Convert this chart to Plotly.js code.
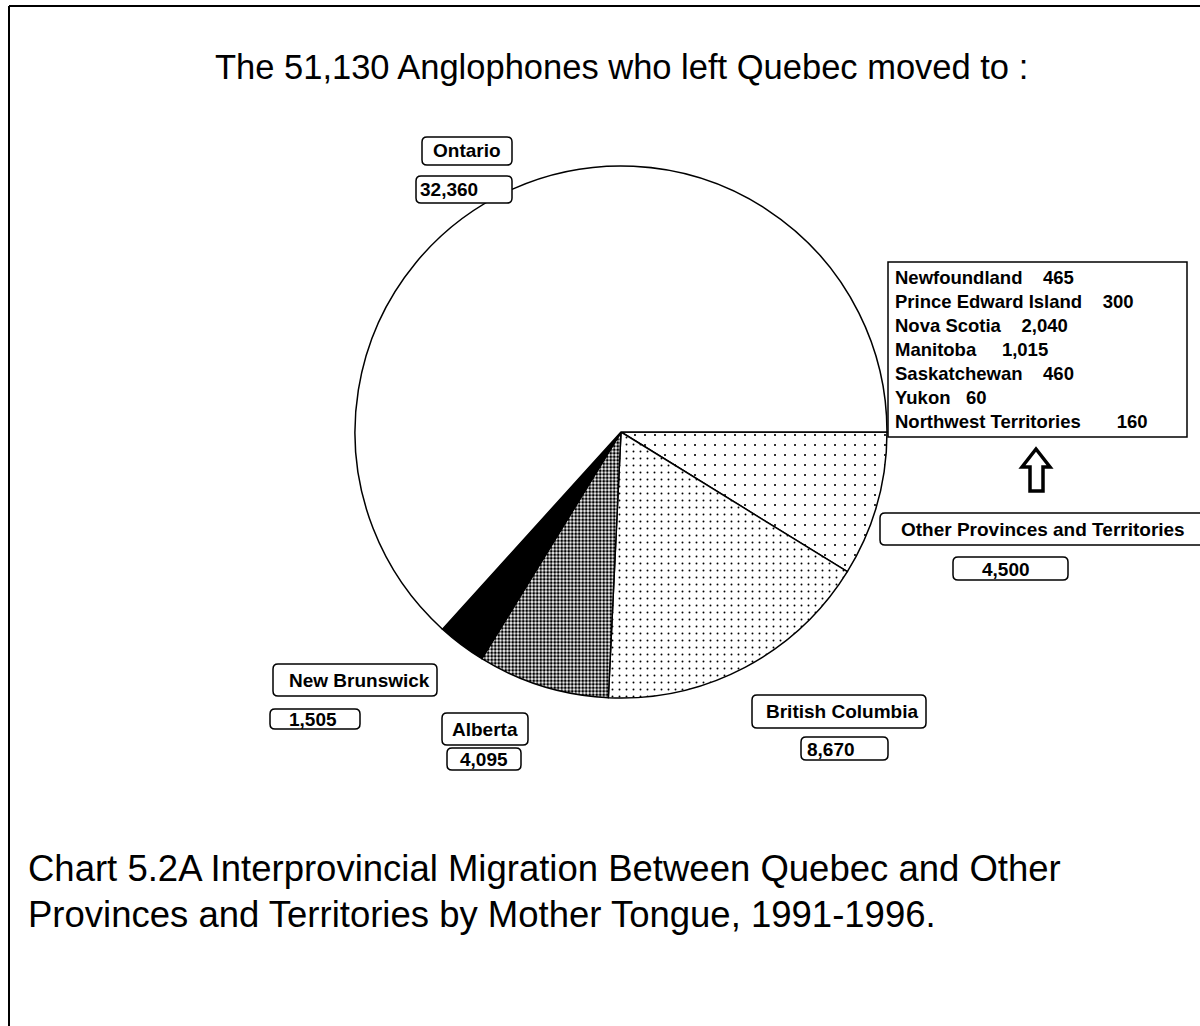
<!DOCTYPE html>
<html>
<head>
<meta charset="utf-8">
<script src="https://cdn.plot.ly/plotly-3.0.1.min.js"></script>
<style>
  html, body { margin: 0; padding: 0; background: #fff; }
  #chart { width: 1200px; height: 1026px; }
</style>
</head>
<body>
<div id="chart"></div>
<script>
// ---- data ----
const sliceLabels = ['Other Provinces and Territories', 'British Columbia', 'Alberta', 'New Brunswick', 'Ontario'];
const sliceValues = [4500, 8670, 4095, 1505, 32360];
const otherNames = ['Newfoundland', 'Prince Edward Island', 'Nova Scotia', 'Manitoba', 'Saskatchewan', 'Yukon', 'Northwest Territories'];
const otherValues = [465, 300, 2040, 1015, 460, 60, 160];
const otherGaps = ['   ', '   ', '   ', '    ', '   ', '  ', '      '];
const titleText = 'The 51,130 Anglophones who left Quebec moved to :';
const captionLines = ['Chart 5.2A Interprovincial Migration Between Quebec and Other',
                      'Provinces and Territories by Mother Tongue, 1991-1996.'];

// ---- layout helpers (pixel -> paper) ----
const W = 1200, H = 1026;
const px = x => x / W;
const py = y => 1 - y / H;
const FONT = 'Liberation Sans, Arial, Helvetica, sans-serif';
const fmt = v => v.toLocaleString('en-US');

function roundRect(x0, y0, x1, y1, r) {
  const p = (x, y) => px(x) + ',' + py(y);
  return 'M' + p(x0 + r, y0) + ' L' + p(x1 - r, y0) +
         ' Q' + p(x1, y0) + ' ' + p(x1, y0 + r) +
         ' L' + p(x1, y1 - r) + ' Q' + p(x1, y1) + ' ' + p(x1 - r, y1) +
         ' L' + p(x0 + r, y1) + ' Q' + p(x0, y1) + ' ' + p(x0, y1 - r) +
         ' L' + p(x0, y0 + r) + ' Q' + p(x0, y0) + ' ' + p(x0 + r, y0) + ' Z';
}

// label boxes: [box x0,y0,x1,y1, text x, text y, anchor, text]
const boxes = [
  [422, 137, 512, 165, 467, 151, 'center', sliceLabels[4]],
  [416, 176, 512, 203, 449, 190, 'center', fmt(sliceValues[4])],
  [880, 513, 1215, 545, 899, 529, 'left', sliceLabels[0]],
  [953, 557, 1068, 580, 1006, 569, 'center', fmt(sliceValues[0])],
  [273, 664, 437, 696, 359, 680, 'center', sliceLabels[3]],
  [270, 709, 360, 729, 313, 719, 'center', fmt(sliceValues[3])],
  [442, 713, 528, 745, 485, 729, 'center', sliceLabels[2]],
  [447, 748, 521, 770, 484, 759, 'center', fmt(sliceValues[2])],
  [752, 695, 926, 728, 842, 711, 'center', sliceLabels[1]],
  [801, 737, 888, 760, 831, 749, 'center', fmt(sliceValues[1])]
];

const shapes = [];
const annotations = [];

// frame lines
shapes.push({type: 'line', xref: 'paper', yref: 'paper', x0: px(9), y0: py(6), x1: px(1200), y1: py(6), line: {color: '#000', width: 2}});
shapes.push({type: 'line', xref: 'paper', yref: 'paper', x0: px(9), y0: py(6), x1: px(9), y1: py(1026), line: {color: '#000', width: 2}});

boxes.forEach(b => {
  shapes.push({type: 'path', xref: 'paper', yref: 'paper', path: roundRect(b[0], b[1], b[2], b[3], 5),
               fillcolor: '#fff', line: {color: '#000', width: 1.5}, layer: 'above'});
  annotations.push({xref: 'paper', yref: 'paper', x: px(b[4]), y: py(b[5]), xanchor: b[6], yanchor: 'middle',
                    text: '<b>' + b[7] + '</b>', showarrow: false, font: {family: FONT, size: 19, color: '#000'}});
});

// other provinces detail box
shapes.push({type: 'rect', xref: 'paper', yref: 'paper', x0: px(888), y0: py(262), x1: px(1187), y1: py(437),
             fillcolor: '#fff', line: {color: '#000', width: 1.5}, layer: 'above'});
const detailText = otherNames.map((n, i) => '<b>' + n + otherGaps[i] + fmt(otherValues[i]) + '</b>').join('<br>');
annotations.push({xref: 'paper', yref: 'paper', x: px(893), y: py(350), xanchor: 'left', yanchor: 'middle', align: 'left',
                  text: detailText.replace(/ {2,}/g, m => '\u00a0'.repeat(m.length + 1)), showarrow: false,
                  font: {family: FONT, size: 18.5, color: '#000'}});

// hollow up arrow
const ap = (x, y) => px(x) + ',' + py(y);
shapes.push({type: 'path', xref: 'paper', yref: 'paper',
             path: 'M' + ap(1036, 449) + ' L' + ap(1050, 467) + ' L' + ap(1043, 467) + ' L' + ap(1043, 491) +
                   ' L' + ap(1030, 491) + ' L' + ap(1030, 467) + ' L' + ap(1022, 467) + ' Z',
             fillcolor: '#fff', line: {color: '#000', width: 3.5}, layer: 'above'});

// title and caption
annotations.push({xref: 'paper', yref: 'paper', x: px(621), y: py(67), xanchor: 'center', yanchor: 'middle',
                  text: titleText, showarrow: false, font: {family: FONT, size: 34.5, color: '#000'}});
annotations.push({xref: 'paper', yref: 'paper', x: px(26), y: py(868), xanchor: 'left', yanchor: 'middle',
                  text: captionLines[0], showarrow: false, font: {family: FONT, size: 36.5, color: '#000'}});
annotations.push({xref: 'paper', yref: 'paper', x: px(26), y: py(914), xanchor: 'left', yanchor: 'middle',
                  text: captionLines[1], showarrow: false, font: {family: FONT, size: 36.5, color: '#000'}});

const cx = 621, cy = 432, R = 266;
const trace = {
  type: 'pie',
  labels: sliceLabels,
  values: sliceValues,
  sort: false,
  direction: 'clockwise',
  rotation: 90,
  textinfo: 'none',
  hoverinfo: 'label+value',
  domain: {x: [px(cx - R), px(cx + R)], y: [py(cy + R), py(cy - R)]},
  marker: {
    colors: ['#ffffff', '#ffffff', '#ffffff', '#000000', '#ffffff'],
    line: {color: '#000', width: 1.5},
    pattern: {
      shape: ['.', '.', '.', '', ''],
      fgcolor: '#000',
      bgcolor: '#ffffff',
      size: [10, 7, 3.5, 8, 8],
      solidity: [0.035, 0.06, 0.55, 0.3, 0.3]
    }
  }
};

const layout = {
  width: W, height: H,
  margin: {l: 0, r: 0, t: 0, b: 0},
  paper_bgcolor: '#fff',
  showlegend: false,
  shapes: shapes,
  annotations: annotations,
  font: {family: FONT}
};

Plotly.newPlot('chart', [trace], layout, {displayModeBar: false, staticPlot: true});
</script>
</body>
</html>
